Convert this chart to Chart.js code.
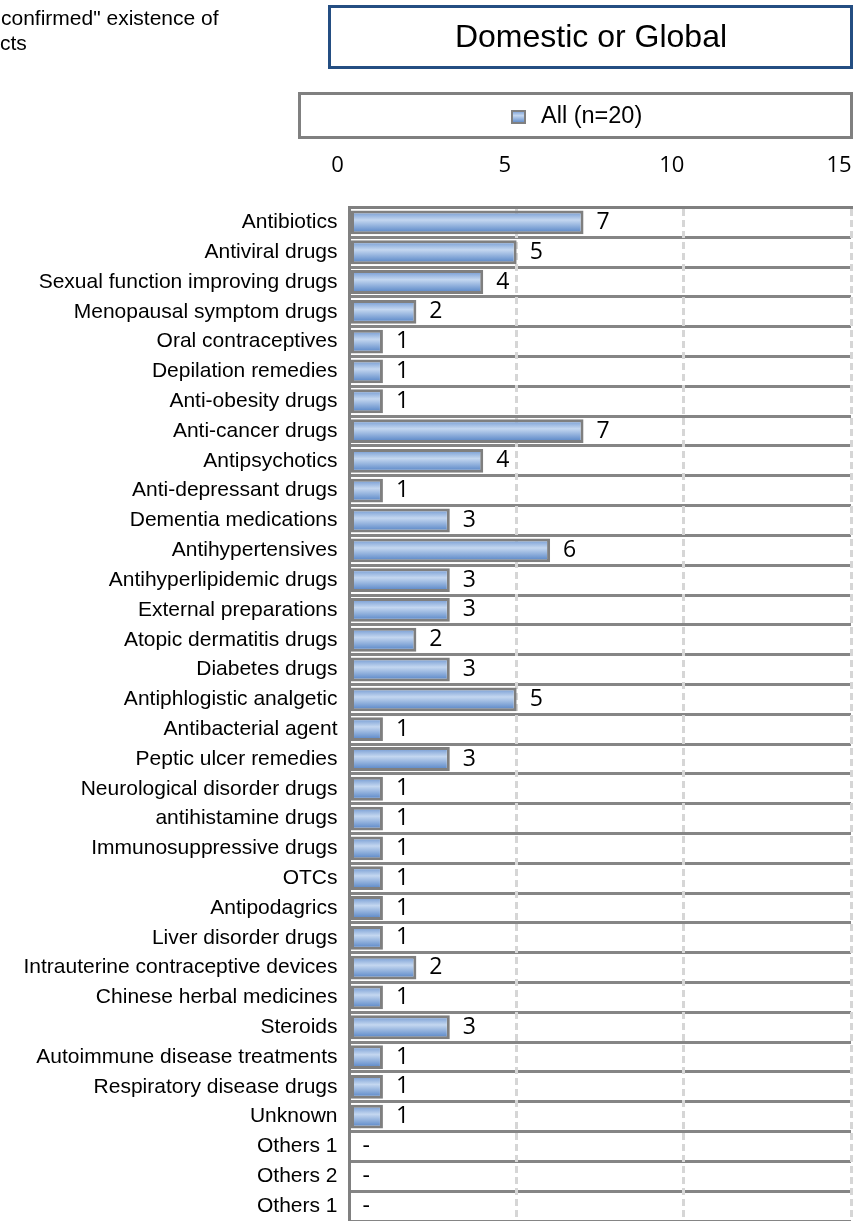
<!DOCTYPE html>
<html>
<head>
<meta charset="utf-8">
<title>Domestic or Global</title>
<script src="https://cdn.jsdelivr.net/npm/chart.js@4.4.1/dist/chart.umd.min.js"></script>
<style>
  html, body { margin: 0; padding: 0; background: #fff; }
  #wrap { width: 855px; height: 1221px; }
</style>
</head>
<body>
<div id="wrap"><canvas id="chart" width="855" height="1221"></canvas></div>
<script>
// data
const categories = [
  "Antibiotics", "Antiviral drugs", "Sexual function improving drugs",
  "Menopausal symptom drugs", "Oral contraceptives", "Depilation remedies",
  "Anti-obesity drugs", "Anti-cancer drugs", "Antipsychotics",
  "Anti-depressant drugs", "Dementia medications", "Antihypertensives",
  "Antihyperlipidemic drugs", "External preparations", "Atopic dermatitis drugs",
  "Diabetes drugs", "Antiphlogistic analgetic", "Antibacterial agent",
  "Peptic ulcer remedies", "Neurological disorder drugs", "antihistamine drugs",
  "Immunosuppressive drugs", "OTCs", "Antipodagrics", "Liver disorder drugs",
  "Intrauterine contraceptive devices", "Chinese herbal medicines", "Steroids",
  "Autoimmune disease treatments", "Respiratory disease drugs", "Unknown",
  "Others 1", "Others 2", "Others 1"
];
const allCounts = [
  7, 5, 4, 2, 1, 1, 1, 7, 4, 1, 3, 6, 3, 3, 2, 3, 5, 1, 3,
  1, 1, 1, 1, 1, 1, 2, 1, 3, 1, 1, 1, null, null, null
];
const xTicks = [0, 5, 10, 15];
const seriesLabel = "All (n=20)";
const titleText = "Domestic or Global";
const noteLines = ['confirmed" existence of', "cts"];

const BAR_PCT = 0.8;
const SANS = "'Liberation Sans', Arial, sans-serif";

function barGradient(c, top, bottom) {
  const g = c.createLinearGradient(0, top, 0, bottom);
  g.addColorStop(0, "#6690cd");
  g.addColorStop(0.4, "#c4d7f0");
  g.addColorStop(1, "#4a7bc1");
  return g;
}

// title box, legend box and the cut-off note at top left
const framePlugin = {
  id: "frame",
  beforeDraw(chart) {
    const c = chart.ctx;
    c.save();
    c.fillStyle = "#fff";
    c.fillRect(0, 0, chart.width, chart.height);

    c.fillStyle = "#000";
    c.font = "21px " + SANS;
    c.textBaseline = "middle";
    c.textAlign = "left";
    c.fillText(noteLines[0], 1, 19);
    c.fillText(noteLines[1], 0, 44);

    // title box
    c.strokeStyle = "#244e82";
    c.lineWidth = 3;
    c.strokeRect(329.5, 6.5, 522, 61);
    c.textAlign = "center";
    c.font = "32px " + SANS;
    c.fillText(titleText, 591, 38);

    // legend box
    c.strokeStyle = "#808080";
    c.strokeRect(299.5, 93.5, 552, 44);
    const label = chart.data.datasets[0].label;
    c.font = "23.5px " + SANS;
    c.textAlign = "left";
    c.fillText(label, 541, 117);
    c.fillStyle = barGradient(c, 110, 124);
    c.fillRect(511, 110, 15, 14);
    c.strokeStyle = "#808080";
    c.lineWidth = 2;
    c.strokeRect(512, 111, 13, 12);
    c.restore();
  }
};

// value labels right of each bar, "-" where there is no value
const valuePlugin = {
  id: "values",
  afterDatasetsDraw(chart) {
    const c = chart.ctx;
    const xs = chart.scales.x;
    const ys = chart.scales.y;
    const data = chart.data.datasets[0].data;
    c.save();
    c.fillStyle = "#000";
    c.font = "23px 'Open Sans', sans-serif";
    c.textBaseline = "middle";
    c.textAlign = "left";
    data.forEach((v, i) => {
      const x = xs.getPixelForValue(v == null ? 0 : v);
      const y = ys.getPixelForValue(i);
      c.fillText(v == null ? "-" : String(v), x + 13, y);
    });
    c.restore();
  }
};

new Chart(document.getElementById("chart"), {
  type: "bar",
  data: {
    labels: categories,
    datasets: [{
      label: seriesLabel,
      data: allCounts,
      borderColor: "#7f7f7f",
      borderWidth: 3,
      borderSkipped: false,
      barPercentage: BAR_PCT,
      categoryPercentage: 1,
      backgroundColor(ctx) {
        const ys = ctx.chart.scales.y;
        if (ctx.dataIndex === undefined || !ys) return "#7aa2d8";
        const cy = ys.getPixelForValue(ctx.dataIndex);
        const h = (ys.height / categories.length) * BAR_PCT;
        if (!isFinite(cy) || !isFinite(h) || h <= 0) return "#7aa2d8";
        return barGradient(ctx.chart.ctx, cy - h / 2, cy + h / 2);
      }
    }]
  },
  options: {
    indexAxis: "y",
    responsive: false,
    animation: false,
    layout: { padding: { top: 0, right: 4, bottom: 0, left: 0 } },
    plugins: {
      legend: { display: false },
      title: { display: false },
      tooltip: { enabled: false }
    },
    scales: {
      x: {
        position: "top",
        min: 0,
        max: 15,
        afterBuildTicks(s) { s.ticks = xTicks.map(v => ({ value: v })); },
        afterFit(s) { s.height = 207.5; s.paddingLeft = 0; s.paddingRight = 0; },
        grid: {
          z: -1,
          drawTicks: false,
          color: ctx => (ctx.tick && ctx.tick.value === 0 ? "rgba(0,0,0,0)" : "#d6d6d6"),
          lineWidth: 3
        },
        // in v4 border.dash styles the grid lines
        border: { display: true, color: "#808080", width: 3, dash: [7, 4] },
        ticks: {
          padding: 29,
          labelOffset: -12,
          color: "#000",
          font: { family: "'Open Sans', sans-serif", size: 22 }
        }
      },
      y: {
        afterFit(s) { s.width = 349.5; s.paddingTop = 0; s.paddingBottom = 0; },
        grid: {
          z: -2,
          offset: true,
          drawTicks: false,
          // the plot runs off the bottom of the picture, so no closing line
          color: ctx => (ctx.index === categories.length ? "rgba(0,0,0,0)" : "#858585"),
          lineWidth: 3
        },
        border: { display: true, color: "#808080", width: 3 },
        ticks: {
          padding: 12,
          color: "#000",
          autoSkip: false,
          font: { family: SANS, size: 21 }
        }
      }
    }
  },
  plugins: [framePlugin, valuePlugin]
});
</script>
</body>
</html>
